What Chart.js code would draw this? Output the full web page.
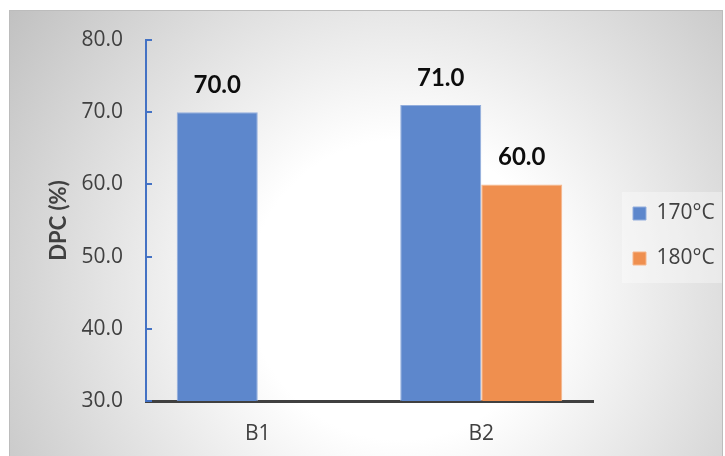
<!DOCTYPE html>
<html>
<head>
<meta charset="utf-8">
<script src="https://cdn.jsdelivr.net/npm/chart.js@4.4.1/dist/chart.umd.min.js"></script>
<style>
  html, body { margin: 0; padding: 0; background: #ffffff; }
  #wrap { width: 725px; height: 456px; }
</style>
</head>
<body>
<div id="wrap"><canvas id="c" width="725" height="456"></canvas></div>
<script>
// DPC by sample and drying temperature
const categories = ['B1', 'B2'];
const seriesNames = ['170°C', '180°C'];
const dpc170 = [70.0, 71.0];
const dpc180 = [null, 60.0];
const yTicks = [30, 40, 50, 60, 70, 80];

const TEXT = '#404040';
const REG = "'Open Sans', 'DejaVu Sans', sans-serif";
const BOLD = "Lato, 'Open Sans', sans-serif";

// soft radial backdrop plus a translucent panel behind the legend
const backdrop = {
  id: 'backdrop',
  beforeDraw(chart) {
    const ctx = chart.ctx;
    ctx.save();
    const g = ctx.createRadialGradient(400, 290, 0, 400, 290, 500);
    g.addColorStop(0, '#ffffff');
    g.addColorStop(0.3, '#ffffff');
    g.addColorStop(1, '#bdbdbd');
    ctx.fillStyle = g;
    ctx.fillRect(9, 10, 714, 446);
    ctx.strokeStyle = '#bcbcbc';
    ctx.lineWidth = 1;
    ctx.strokeRect(9.5, 10.5, 713, 446);
    ctx.fillStyle = 'rgba(255,255,255,0.35)';
    ctx.fillRect(622, 192, 100, 91);
    ctx.restore();
  }
};

// put the legend box at its spot right of the plot
const legendSpot = {
  id: 'legendSpot',
  afterLayout(chart) {
    const L = chart.legend;
    if (!L) return;
    const w = L.width, h = L.height;
    L.left = 609; L.right = L.left + w;
    L.top = 179; L.bottom = L.top + h;
  }
};

// short tick marks on the inner side of the value axis
const innerTicks = {
  id: 'innerTicks',
  afterDraw(chart) {
    const y = chart.scales.y;
    const ctx = chart.ctx;
    ctx.save();
    ctx.strokeStyle = '#4472c4';
    ctx.lineWidth = 2;
    y.ticks.forEach(t => {
      const py = Math.round(y.getPixelForValue(t.value));
      ctx.beginPath();
      ctx.moveTo(y.right, py);
      ctx.lineTo(y.right + 6, py);
      ctx.stroke();
    });
    ctx.restore();
  }
};

// value labels above each bar
const valueLabels = {
  id: 'valueLabels',
  afterDatasetsDraw(chart) {
    const ctx = chart.ctx;
    ctx.save();
    ctx.font = "bold 24px " + BOLD;
    ctx.fillStyle = '#0d0d0d';
    ctx.textAlign = 'center';
    ctx.textBaseline = 'middle';
    chart.data.datasets.forEach((ds, di) => {
      const meta = chart.getDatasetMeta(di);
      meta.data.forEach((bar, i) => {
        const v = ds.data[i];
        if (v === null || v === undefined) return;
        ctx.fillText(v.toFixed(1), bar.x, bar.y - 27);
      });
    });
    ctx.restore();
  }
};

new Chart(document.getElementById('c'), {
  type: 'bar',
  data: {
    labels: categories,
    datasets: [
      {
        label: seriesNames[0],
        data: dpc170,
        backgroundColor: '#5d87cc',
        borderColor: '#93aedd',
        borderWidth: 1
      },
      {
        label: seriesNames[1],
        data: dpc180,
        backgroundColor: '#ef8f4f',
        borderColor: '#f6b68b',
        borderWidth: 1
      }
    ]
  },
  options: {
    responsive: false,
    animation: false,
    devicePixelRatio: 1,
    layout: { padding: { left: 0, top: 40, right: 132, bottom: 0 } },
    datasets: {
      bar: { categoryPercentage: 0.725, barPercentage: 1.0 }
    },
    scales: {
      x: {
        z: 1,
        grid: { display: false, drawTicks: false },
        border: { display: true, color: '#404040', width: 3 },
        ticks: { color: TEXT, font: { family: REG, size: 21 }, padding: 20 },
        afterFit(s) { s.height = 55; }
      },
      y: {
        min: yTicks[0],
        max: yTicks[yTicks.length - 1],
        beginAtZero: false,
        grid: { display: false, drawTicks: false },
        border: { display: true, color: '#4472c4', width: 2 },
        afterBuildTicks(s) { s.ticks = yTicks.map(v => ({ value: v })); },
        ticks: {
          color: TEXT,
          font: { family: REG, size: 21 },
          padding: 23,
          callback: v => Number(v).toFixed(1)
        },
        title: {
          display: true,
          text: 'DPC (%)',
          color: TEXT,
          font: { family: BOLD, size: 22, weight: 'bold' },
          padding: { top: 46, bottom: 0 }
        },
        afterFit(s) { s.width = 146; }
      }
    },
    plugins: {
      legend: {
        position: 'chartArea',
        align: 'start',
        labels: {
          color: TEXT,
          font: { family: REG, size: 21 },
          boxWidth: 13,
          boxHeight: 13,
          padding: 24
        }
      },
      tooltip: { enabled: false }
    }
  },
  plugins: [backdrop, legendSpot, innerTicks, valueLabels]
});
</script>
</body>
</html>
